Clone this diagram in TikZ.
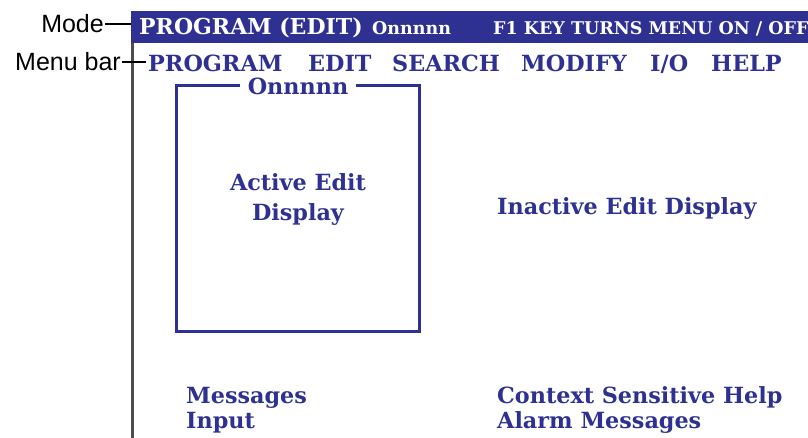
\documentclass[tikz,border=0pt]{standalone}
\usepackage{fontspec}
\setmainfont{DejaVu Serif}
\newfontfamily\labelfont{Liberation Sans}
\definecolor{scrblue}{HTML}{2E3192}
\definecolor{leadgrey}{HTML}{4D4D4D}
\tikzset{
  bluetxt/.style={text=scrblue, font=\bfseries\fontsize{22.3}{26}\selectfont, inner sep=0pt, anchor=base west},
  bartxt/.style={text=white, inner sep=0pt, anchor=base west},
  lbl/.style={font=\labelfont\fontsize{25}{28}\selectfont, inner sep=0pt, anchor=base east},
  leader/.style={draw=black, line width=1.6pt},
}
\begin{document}
\begin{tikzpicture}[x=1pt,y=-1pt]
\useasboundingbox (0,0) rectangle (808,438);
\clip (0,0) rectangle (808,438);
% mode bar
\fill[scrblue] (131,11) rectangle (812,43);
\node[bartxt, font=\bfseries\fontsize{22}{26}\selectfont] (title) at (139,35) {PROGRAM (EDIT)};
\node[bartxt, font=\bfseries\fontsize{17.5}{20}\selectfont] (prog) at (372,35) {Onnnnn};
\node[bartxt, font=\bfseries\fontsize{17.5}{20}\selectfont] (f1) at (493,35) {F1 KEY TURNS MENU ON / OFF};
% vertical leader
\coordinate (vtop) at (132.5,43);
\coordinate (vbot) at (132.5,438);
\draw[leadgrey, line width=2.2pt] (vtop) -- (vbot);
% labels
\node[lbl] (mode) at (104,33) {Mode};
\coordinate (modeend) at (131,24);
\draw[leader] (mode.east |- modeend) ++(1,0) -- (modeend);
\node[lbl] (menubar) at (121,71) {Menu bar};
\coordinate (mbend) at (146,62);
\draw[leader] (menubar.east |- mbend) ++(1,0) -- (mbend);
% menu items
\node[bluetxt] (m1) at (148,72) {PROGRAM};
\node[bluetxt] (m2) at (308,72) {EDIT};
\node[bluetxt] (m3) at (392,72) {SEARCH};
\node[bluetxt] (m4) at (521,72) {MODIFY};
\node[bluetxt] (m5) at (650,72) {I/O};
\node[bluetxt] (m6) at (711,72) {HELP};
% active edit box
\draw[scrblue, line width=3pt] (240,86) -- (176.5,86) -- (176.5,331) -- (419,331) -- (419,86) -- (356,86);
\node[bluetxt, anchor=base] (onn) at (298,95) {Onnnnn};
\node[bluetxt, anchor=base] (active) at (298,191) {Active Edit};
\node[bluetxt, anchor=base] (disp) at (298,221) {Display};
\node[bluetxt] (inactive) at (497,215) {Inactive Edit Display};
\node[bluetxt] (msg) at (186,403) {Messages};
\node[bluetxt] (inp) at (186,428) {Input};
\node[bluetxt] (ctx) at (497,403) {Context Sensitive Help};
\node[bluetxt] (alarm) at (497,428) {Alarm Messages};
\end{tikzpicture}
\end{document}
